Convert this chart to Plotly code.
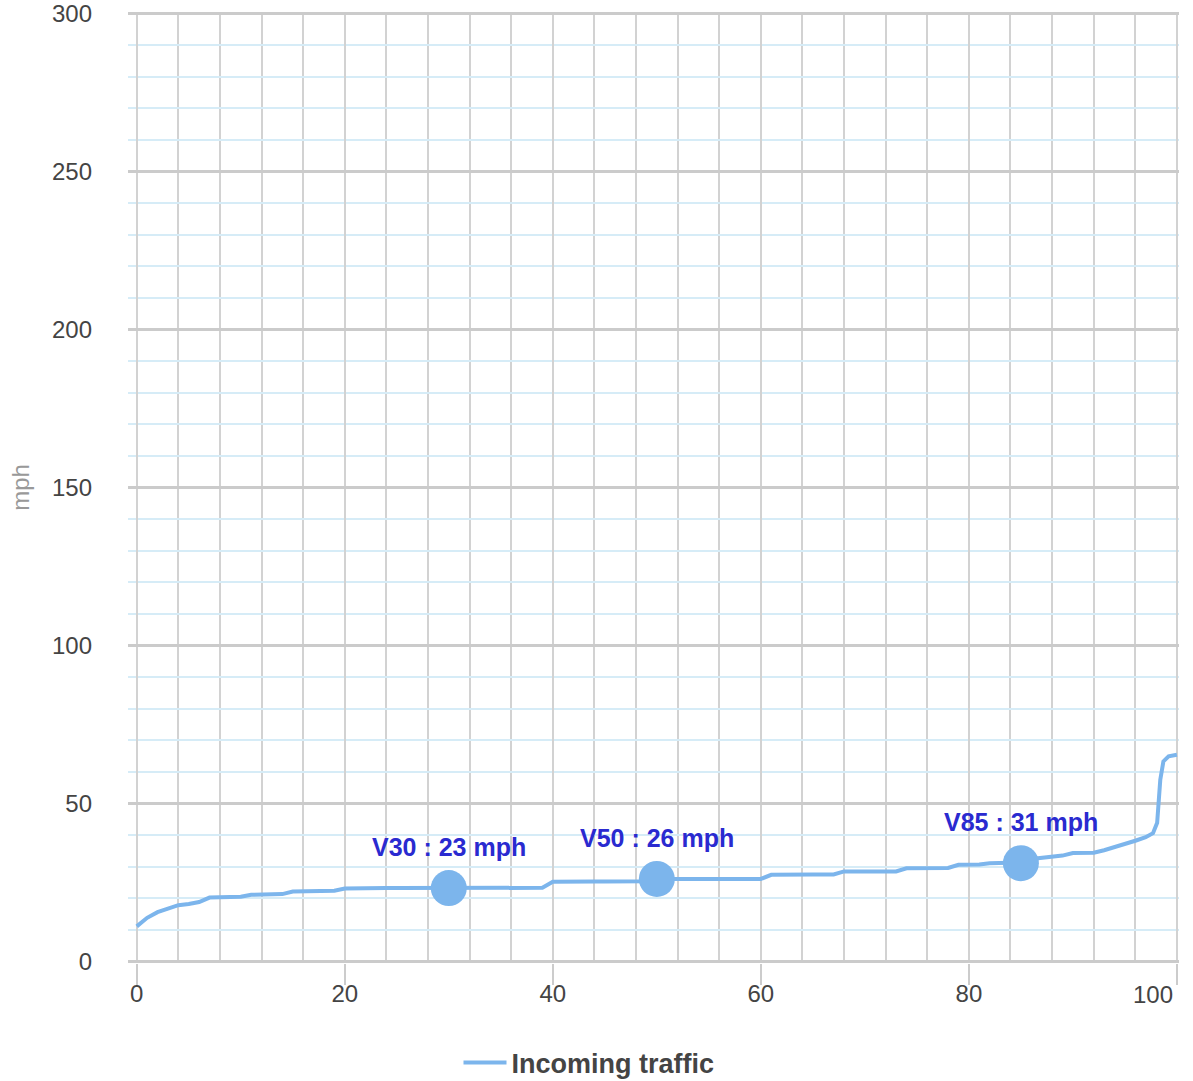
import plotly.graph_objects as go

# Percentile (x) vs speed in mph (y)
percentiles = [0, 1, 2, 3, 4, 5, 6, 7, 8, 9, 10, 11, 12, 13, 14, 15, 16, 17, 18, 19,
               20, 21, 22, 23, 24, 25, 26, 27, 28, 29, 30, 31, 32, 33, 34, 35, 36, 37, 38, 39,
               40, 41, 42, 43, 44, 45, 46, 47, 48, 49, 50, 51, 52, 53, 54, 55, 56, 57, 58, 59,
               60, 61, 62, 63, 64, 65, 66, 67, 68, 69, 70, 71, 72, 73, 74, 75, 76, 77, 78, 79,
               80, 81, 82, 83, 84, 85, 86, 87, 88, 89, 90, 91, 92, 93, 94, 95, 96, 97,
               97.7, 98.1, 98.4, 98.7, 99.2, 100]
speeds = [11.1, 13.8, 15.6, 16.8, 17.8, 18.2, 18.8, 20.2, 20.4, 20.4, 20.5, 21.1, 21.2, 21.2, 21.3, 22.1, 22.1, 22.1, 22.2, 22.4,
          23.1, 23.2, 23.2, 23.2, 23.2, 23.2, 23.2, 23.2, 23.2, 23.2, 23.2, 23.2, 23.2, 23.2, 23.2, 23.2, 23.2, 23.2, 23.2, 23.3,
          25.2, 25.3, 25.3, 25.3, 25.3, 25.3, 25.3, 25.3, 25.3, 25.4, 26.1, 26.1, 26.1, 26.1, 26.1, 26.1, 26.1, 26.1, 26.1, 26.1,
          26.1, 27.4, 27.5, 27.5, 27.5, 27.5, 27.5, 27.5, 28.5, 28.5, 28.5, 28.5, 28.5, 28.5, 29.5, 29.5, 29.5, 29.6, 29.6, 30.6,
          30.6, 30.7, 31.1, 31.2, 31.3, 31.3, 32.4, 32.8, 33.3, 33.5, 34.3, 34.3, 34.4, 35.2, 36.1, 37.2, 38.2, 39.3,
          40.6, 43.9, 57.5, 63.3, 64.9, 65.4]

# Highlighted percentiles
key_percentiles = [30, 50, 85]
key_speeds = [23.2, 26.1, 31.1]
key_labels = ["V30 : 23 mph", "V50 : 26 mph", "V85 : 31 mph"]

series_name = "Incoming traffic"
x_ticks = [0, 20, 40, 60, 80, 100]
y_ticks = [0, 50, 100, 150, 200, 250, 300]

LINE_COLOR = "#7cb5ec"
FONT = "Arial, Liberation Sans, sans-serif"
TICK_COLOR = "#444444"

FIG_W, FIG_H = 1193, 1081

fig = go.Figure()
fig.add_trace(go.Scatter(
    x=percentiles, y=speeds, mode="lines", name=series_name,
    line=dict(color=LINE_COLOR, width=4),
))
fig.add_trace(go.Scatter(
    x=key_percentiles, y=key_speeds, mode="markers", showlegend=False,
    marker=dict(color=LINE_COLOR, size=36, line=dict(width=0)),
))
for xp, yp, lab in zip(key_percentiles, key_speeds, key_labels):
    fig.add_annotation(x=xp, y=yp, text="<b>" + lab + "</b>", showarrow=False,
                       yshift=41, font=dict(family=FONT, size=25, color="#2a2ad0"))

# last x tick label is kept inside the plot (right-aligned to its tick)
fig.add_annotation(x=x_ticks[-1], xref="x", y=0, yref="paper", text=str(x_ticks[-1]),
                   showarrow=False, xanchor="right", yanchor="middle", yshift=-31, xshift=-2,
                   font=dict(family=FONT, size=24, color=TICK_COLOR))

fig.update_layout(
    width=FIG_W, height=FIG_H,
    margin=dict(l=128, r=14, t=12, b=118, autoexpand=False),
    paper_bgcolor="white", plot_bgcolor="white",
    font=dict(family=FONT, color=TICK_COLOR),
    showlegend=True,
    hovermode=False,
    legend=dict(orientation="h", x=589 / FIG_W, xanchor="center", xref="container",
                y=1 - 1063 / FIG_H, yanchor="middle", yref="container",
                itemwidth=43,
                font=dict(size=27, color=TICK_COLOR, family=FONT, weight="bold")),
    xaxis=dict(
        range=[-0.84, 100.2], tickvals=x_ticks,
        ticktext=[str(v) for v in x_ticks[:-1]] + [""],
        showgrid=True, gridcolor="#d2d2d2", gridwidth=2,
        minor=dict(dtick=4, tick0=0, showgrid=True, gridcolor="#d2d2d2", gridwidth=2),
        ticks="outside", ticklen=21, tickwidth=2, tickcolor="#cccccc",
        ticklabelstandoff=-12,
        zeroline=False, showline=False, automargin=False,
        tickfont=dict(size=24, color=TICK_COLOR),
    ),
    yaxis=dict(
        range=[-0.5, 300.5], tickvals=y_ticks, ticktext=[str(v) for v in y_ticks],
        showgrid=True, gridcolor="#cbcbcb", gridwidth=3,
        minor=dict(dtick=10, tick0=0, showgrid=True, gridcolor="#d6ecf7", gridwidth=1.5),
        ticks="", ticklabelstandoff=35, ticklabeloverflow="allow",
        zeroline=False, showline=False, automargin=False,
        tickfont=dict(size=24, color=TICK_COLOR),
        title=dict(text="mph", font=dict(size=24, color="#999999"), standoff=15),
    ),
)

# remove the browser's default 8px body margin so the figure fills the window exactly
fig.write_html("out.html", config={"displayModeBar": False},
               post_script="document.body.style.margin='0px';")
